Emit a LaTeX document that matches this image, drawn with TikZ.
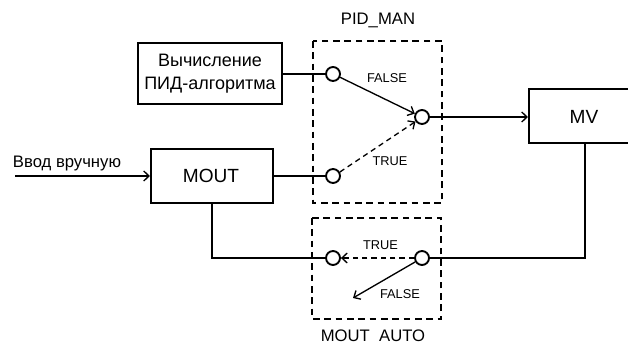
\documentclass[tikz,border=0pt]{standalone}
\usepackage{fontspec}
\setmainfont{Liberation Sans}
\usetikzlibrary{arrows.meta}
\begin{document}
\begin{tikzpicture}[x=0.75pt,y=-0.75pt,
  blockbox/.style={draw,line width=1.5pt,inner sep=0pt,align=center,font=\fontsize{13.5pt}{17.25pt}\selectfont},
  switchpt/.style={draw,circle,line width=1.4pt,minimum size=10.5pt,inner sep=0pt},
  groupbox/.style={line width=1.5pt,dash pattern=on 5pt off 3.5pt},
  wire/.style={line width=1pt},
  arr/.style={wire,-{Straight Barb[length=4pt,width=7.5pt,line width=1pt]}},
  darr/.style={arr,dash pattern=on 4pt off 3pt},
  smalllbl/.style={font=\fontsize{9.6pt}{11pt}\selectfont,anchor=base,inner sep=0pt},
  biglbl/.style={font=\fontsize{12.5pt}{14pt}\selectfont,anchor=base,inner sep=0pt}]
\useasboundingbox (0,0) rectangle (628,342);
% group boxes
\draw[groupbox] (313,41) rectangle (442,203);
\draw[groupbox] (312,218) rectangle (441,319);
\node[biglbl] (lpid) at (378,25) {PID\_MAN};
\node[biglbl] (lauto) at (373,341) {MOUT\_AUTO};
% blocks
\node[blockbox,minimum width=108pt,minimum height=45.75pt] (pid) at (210,73.5) {Вычисление\\ПИД-алгоритма};
\node[blockbox,minimum width=91.5pt,minimum height=40.5pt] (mout) at (212,176) {};
\node[font=\fontsize{14.3pt}{16pt}\selectfont,anchor=base,inner sep=0pt] (moutt) at (211,183) {MOUT};
\node[blockbox,minimum width=84pt,minimum height=40.5pt] (mv) at (585,116) {};
\node[font=\fontsize{14.3pt}{16pt}\selectfont,anchor=base,inner sep=0pt] (mvt) at (584,124) {MV};
% switch points
\node[switchpt] (pu) at (333,74) {};
\node[switchpt] (pl) at (333,176) {};
\node[switchpt] (pr) at (422,117) {};
\node[switchpt] (al) at (333,258) {};
\node[switchpt] (ar) at (422,258) {};
% manual input
\coordinate (inp) at (15,176);
\node[biglbl] (linp) at (67,168) {Ввод вручную};
\draw[arr] (inp) -- (mout.west);
% wires
\draw[wire] (pid.east |- pu) -- (pu.west);
\draw[wire] (mout.east |- pl) -- (pl.west);
\draw[arr] (pr.east) -- (mv.west |- pr);
\draw[arr] (pu.-25) -- (pr.155);
\draw[darr] (pl.30) -- (pr.215);
\draw[wire] (mv.south) |- (ar.east);
\draw[wire] (mout.south) |- (al.west);
\draw[darr] (ar.west) -- (al.east);
\coordinate (fe) at (353,298);
\draw[arr] (ar.210) -- (fe);
% labels
\node[smalllbl] (f1) at (387,83) {FALSE};
\node[smalllbl] (t1) at (390,166) {TRUE};
\node[smalllbl] (t2) at (380.5,249) {TRUE};
\node[smalllbl] (f2) at (400,298) {FALSE};
\end{tikzpicture}
\end{document}
